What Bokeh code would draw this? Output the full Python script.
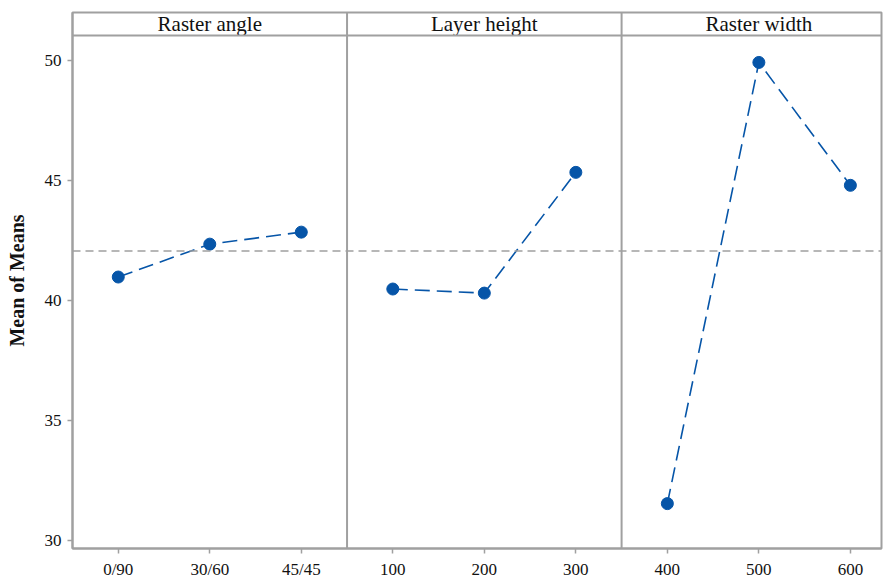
from bokeh.plotting import figure
from bokeh.models import Range1d, FixedTicker, Span, ColumnDataSource
from bokeh.core.properties import value
from bokeh.embed import file_html
from bokeh.resources import INLINE

factors = ["Raster angle", "Layer height", "Raster width"]
levels = [["0/90", "30/60", "45/45"], ["100", "200", "300"], ["400", "500", "600"]]
means = [[40.98, 42.35, 42.85], [40.48, 40.31, 45.34], [31.54, 49.92, 44.80]]
y_ticks = [30, 35, 40, 45, 50]

BLUE = "#0655A8"
GRAY = "#A0A0A0"
FONT = "Liberation Serif"

y_lo, y_hi, y_head = 29.67, 52.0, 51.04
p = figure(width=883, height=581, output_backend="svg", toolbar_location=None,
           x_range=Range1d(0, 8.84), y_range=Range1d(y_lo, y_hi),
           min_border_left=72, min_border_top=12, min_border_right=2, min_border_bottom=32)
p.grid.visible = False
p.outline_line_color = GRAY
p.outline_line_width = 2
p.background_fill_color = "white"
p.border_fill_color = "white"

all_vals = [v for row in means for v in row]
grand = sum(all_vals) / len(all_vals)
p.add_layout(Span(location=grand, dimension="width", line_color=GRAY, line_width=1.5, line_dash="8 5"))
p.add_layout(Span(location=y_head, dimension="width", line_color=GRAY, line_width=2))
for k in (1, 2):
    p.add_layout(Span(location=3 * k, dimension="height", line_color=GRAY, line_width=2))

ticks_x, overrides = [], {}
for k, (lv, mv) in enumerate(zip(levels, means)):
    xs = [3 * k + i + 0.5 for i in range(len(lv))]
    for x, lab in zip(xs, lv):
        ticks_x.append(x)
        overrides[x] = lab
    src = ColumnDataSource(dict(x=xs, y=mv))
    p.line("x", "y", source=src, line_color=BLUE, line_width=1.6, line_dash="15 7")
    p.scatter("x", "y", source=src, size=12, fill_color=BLUE, line_color=BLUE)

hsrc = ColumnDataSource(dict(x=[3 * k + 1.5 for k in range(len(factors))],
                             y=[(y_head + y_hi) / 2] * len(factors), t=factors))
p.text("x", "y", text="t", source=hsrc, text_align="center", text_baseline="middle",
       text_font=value(FONT), text_font_size="21px", text_color="#111111")

xa = p.xaxis[0]
xa.ticker = FixedTicker(ticks=ticks_x)
xa.major_label_overrides = overrides
ya = p.yaxis[0]
ya.ticker = FixedTicker(ticks=y_ticks)
ya.axis_label = "Mean of Means"
ya.axis_label_text_font = FONT
ya.axis_label_text_font_style = "bold"
ya.axis_label_text_font_size = "20px"
ya.axis_label_text_color = "#111111"
ya.axis_label_standoff = 14
for ax in (xa, ya):
    ax.axis_line_color = GRAY
    ax.axis_line_width = 2
    ax.major_tick_line_color = GRAY
    ax.major_tick_line_width = 1.5
    ax.major_tick_in = 0
    ax.major_tick_out = 5
    ax.minor_tick_line_color = None
    ax.major_label_text_font = FONT
    ax.major_label_text_font_size = "17px"
    ax.major_label_text_color = "#111111"
    ax.major_label_standoff = 6

open("out.html", "w").write(file_html(p, INLINE))
